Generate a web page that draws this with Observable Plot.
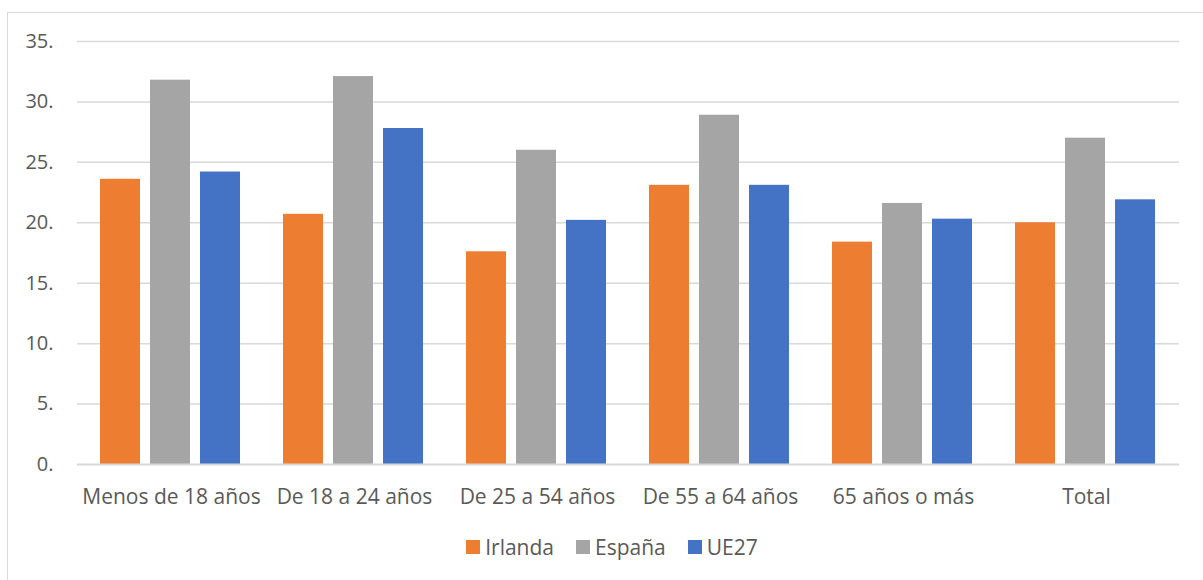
<!DOCTYPE html>
<html>
<head>
<meta charset="utf-8">
<script src="https://cdn.jsdelivr.net/npm/d3@7"></script>
<script src="https://cdn.jsdelivr.net/npm/@observablehq/plot@0.6"></script>
<style>
  body { margin: 0; background: #fff; font-family: "Open Sans", sans-serif; }
  #wrap { position: relative; width: 1203px; height: 580px; overflow: hidden; }
  #frame { position: absolute; left: 7px; top: 12px; width: 1210px; height: 590px; border: 1.5px solid #d9d9d9; box-sizing: border-box; }
  .layer { position: absolute; left: 0; top: 0; }
  #back g[aria-label="y-axis tick label"], #back g[aria-label="y-axis tick label"] text { font-size: 20px; }
  #legend { position: absolute; left: 7px; width: 1210px; top: 533px; display: flex; justify-content: center; align-items: center; gap: 22px; font-size: 21px; color: #595959; }
  #legend .item { display: flex; align-items: center; gap: 5px; }
  #legend .sw { width: 14px; height: 14px; display: inline-block; }
</style>
</head>
<body>
<div id="wrap">
  <div id="frame"></div>
  <div id="back" class="layer"></div>
  <div id="front" class="layer"></div>
  <div id="legend"></div>
</div>
<script>
const categories = ["Menos de 18 años", "De 18 a 24 años", "De 25 a 54 años", "De 55 a 64 años", "65 años o más", "Total"];
const seriesNames = ["Irlanda", "España", "UE27"];
const irlanda = [23.6, 20.7, 17.6, 23.1, 18.4, 20.0];
const espana  = [31.8, 32.1, 26.0, 28.9, 21.6, 27.0];
const ue27    = [24.2, 27.8, 20.2, 23.1, 20.3, 21.9];
const yTicks = [0, 5, 10, 15, 20, 25, 30, 35];
const colors = ["#ED7D31", "#A5A5A5", "#4472C4"];

const seriesValues = [irlanda, espana, ue27];
const data = categories.flatMap((c, i) =>
  seriesNames.map((s, j) => ({ cat: c, serie: s, value: seriesValues[j][i] }))
);

const common = {
  width: 1203,
  height: 500,
  marginTop: 41,
  marginBottom: 36,
  marginLeft: 77,
  marginRight: 24,
  style: { fontFamily: "'Open Sans', sans-serif", fontSize: "21px", color: "#595959", background: "transparent", overflow: "visible" }
};
const catScale = { domain: categories, paddingInner: 0.223, paddingOuter: 0.112 };

// Background: gridlines, y axis and category labels
const back = Plot.plot({
  ...common,
  x: { ...catScale, axis: null },
  y: { domain: [0, 35], axis: null },
  marks: [
    Plot.ruleY(yTicks.filter(d => d > 0), { stroke: "#d9d9d9", strokeWidth: 1.5 }),
    Plot.axisY(yTicks, { tickSize: 0, tickPadding: 24, tickFormat: d => d + ".", label: null, fontSize: 20 }),
    Plot.axisX({ tickSize: 0, tickPadding: 25, label: null, fontSize: 21 })
  ]
});
document.getElementById("back").appendChild(back);

// Foreground: grouped bars
const front = Plot.plot({
  ...common,
  fx: { ...catScale, axis: null },
  x: { domain: seriesNames, paddingInner: 0.197, paddingOuter: 0, axis: null },
  y: { domain: [0, 35], axis: null },
  color: { domain: seriesNames, range: colors },
  marks: [
    Plot.barY(data, { fx: "cat", x: "serie", y: "value", fill: "serie" })
  ]
});
document.getElementById("front").appendChild(front);

// Baseline drawn over bars
const base = Plot.plot({
  ...common,
  x: { ...catScale, axis: null },
  y: { domain: [0, 35], axis: null },
  marks: [ Plot.ruleY([0], { stroke: "#d9d9d9", strokeWidth: 2 }) ]
});
const baseDiv = document.createElement("div");
baseDiv.className = "layer";
baseDiv.appendChild(base);
document.getElementById("wrap").insertBefore(baseDiv, document.getElementById("legend"));

const legend = document.getElementById("legend");
seriesNames.forEach((s, i) => {
  const item = document.createElement("div");
  item.className = "item";
  const sw = document.createElement("span");
  sw.className = "sw";
  sw.style.background = colors[i];
  const t = document.createElement("span");
  t.textContent = s;
  item.appendChild(sw);
  item.appendChild(t);
  legend.appendChild(item);
});
</script>
</body>
</html>
